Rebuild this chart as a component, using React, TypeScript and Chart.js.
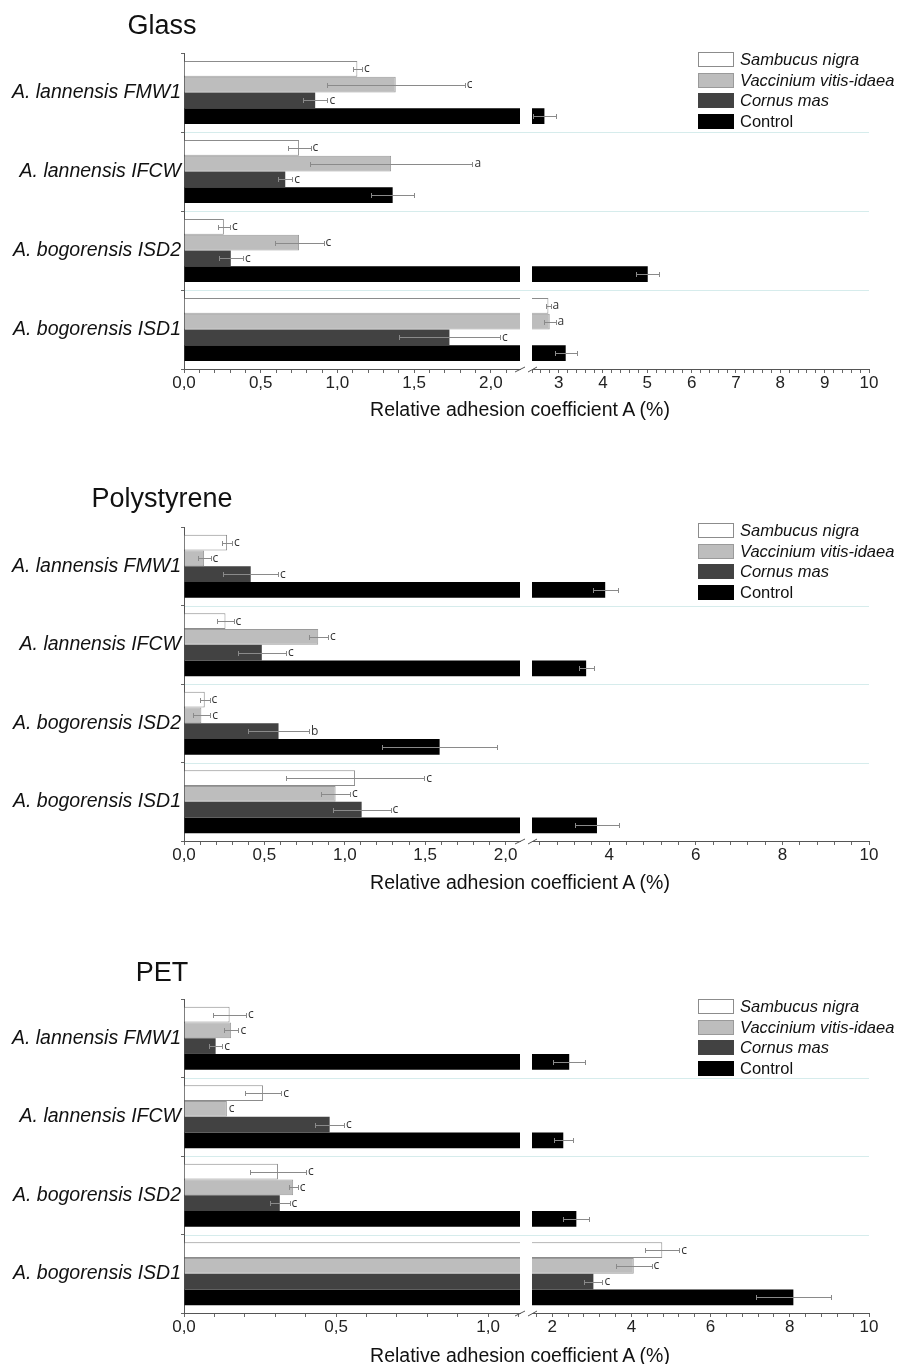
import React, { useEffect, useRef } from "react";
import { Chart, registerables } from "chart.js";

Chart.register(...registerables);

// ---------- categories & series ----------
const categories = ["A. lannensis FMW1", "A. lannensis IFCW", "A. bogorensis ISD2", "A. bogorensis ISD1"];
const seriesNames = ["Sambucus nigra", "Vaccinium vitis-idaea", "Cornus mas", "Control"];
const seriesItalic = [true, true, true, false];

// ---------- Glass ----------
const glassSambucus = [1.13, 0.75, 0.26, 2.77];
const glassSambucusErr = [0.03, 0.075, 0.04, 0.05];
const glassVaccinium = [1.38, 1.35, 0.75, 2.8];
const glassVacciniumErr = [0.45, 0.53, 0.16, 0.13];
const glassCornus = [0.855, 0.66, 0.305, 1.73];
const glassCornusErr = [0.08, 0.045, 0.08, 0.33];
const glassControl = [2.68, 1.36, 5.01, 3.16];
const glassControlErr = [0.26, 0.14, 0.26, 0.25];
const glassSambucusLetters = ["c", "c", "c", "a"];
const glassVacciniumLetters = ["c", "a", "c", "a"];
const glassCornusLetters = ["c", "c", "c", "c"];
const glassControlLetters = ["", "", "", ""];

// ---------- Polystyrene ----------
const psSambucus = [0.268, 0.258, 0.129, 1.064];
const psSambucusErr = [0.03, 0.05, 0.03, 0.43];
const psVaccinium = [0.125, 0.835, 0.108, 0.943];
const psVacciniumErr = [0.04, 0.06, 0.055, 0.09];
const psCornus = [0.415, 0.484, 0.588, 1.105];
const psCornusErr = [0.17, 0.15, 0.19, 0.18];
const psControl = [3.91, 3.47, 1.59, 3.72];
const psControlErr = [0.29, 0.17, 0.36, 0.5];
const psSambucusLetters = ["c", "c", "c", "c"];
const psVacciniumLetters = ["c", "c", "c", "c"];
const psCornusLetters = ["c", "c", "b", "c"];
const psControlLetters = ["", "", "", ""];

// ---------- PET ----------
const petSambucus = [0.15, 0.26, 0.309, 4.78];
const petSambucusErr = [0.054, 0.06, 0.092, 0.43];
const petVaccinium = [0.155, 0.141, 0.359, 4.06];
const petVacciniumErr = [0.024, 0.0, 0.015, 0.45];
const petCornus = [0.104, 0.479, 0.315, 3.04];
const petCornusErr = [0.022, 0.047, 0.032, 0.23];
const petControl = [2.43, 2.28, 2.61, 8.09];
const petControlErr = [0.41, 0.24, 0.33, 0.94];
const petSambucusLetters = ["c", "c", "c", "c"];
const petVacciniumLetters = ["c", "c", "c", "c"];
const petCornusLetters = ["c", "c", "c", "c"];
const petControlLetters = ["", "", "", ""];

// ---------- axis breaks / ticks ----------
const glassLeftRange = [0, 2.19];
const glassRightRange = [2.4, 10];
const psLeftRange = [0, 2.09];
const psRightRange = [2.22, 10];
const petLeftRange = [0, 1.105];
const petRightRange = [1.49, 10];

const axisTitle = "Relative adhesion coefficient A (%)";

// ---------- styles ----------
const FONT = "'Liberation Sans', Arial, sans-serif";
const fills = ["#ffffff", "#bdbdbd", "#424242", "#000000"];
const borders = ["#8c8c8c", "#9a9a9a", "#424242", "#000000"];
const borderWidths = [1, 1, 0, 0];
const W = 899;
const LEFT_AXIS_X = 184;
const LEFT_END_X = 520;
const RIGHT_START_X = 532;
const RIGHT_END_X = 869;
const XAXIS_H = 30;

type PanelDef = {
  title: string;
  canvasTop: number;
  canvasHeight: number;
  plotTop: number;
  plotBottom: number;
  titleY: number;
  axisTitleY: number;
  legendTop: number;
  values: number[][];
  errors: number[][];
  letters: string[][];
  leftRange: number[];
  rightRange: number[];
  leftStep: number;
  leftMajor: number;
  rightStep: number;
  rightMajor: number;
  rightFirstLabel: number;
};

const panels: PanelDef[] = [
  {
    title: "Glass",
    canvasTop: 0,
    canvasHeight: 430,
    plotTop: 53,
    plotBottom: 369,
    titleY: 25,
    axisTitleY: 409,
    legendTop: 52,
    values: [glassSambucus, glassVaccinium, glassCornus, glassControl],
    errors: [glassSambucusErr, glassVacciniumErr, glassCornusErr, glassControlErr],
    letters: [glassSambucusLetters, glassVacciniumLetters, glassCornusLetters, glassControlLetters],
    leftRange: glassLeftRange,
    rightRange: glassRightRange,
    leftStep: 0.1,
    leftMajor: 0.5,
    rightStep: 0.2,
    rightMajor: 1,
    rightFirstLabel: 3,
  },
  {
    title: "Polystyrene",
    canvasTop: 470,
    canvasHeight: 430,
    plotTop: 527,
    plotBottom: 841,
    titleY: 498,
    axisTitleY: 882,
    legendTop: 523,
    values: [psSambucus, psVaccinium, psCornus, psControl],
    errors: [psSambucusErr, psVacciniumErr, psCornusErr, psControlErr],
    letters: [psSambucusLetters, psVacciniumLetters, psCornusLetters, psControlLetters],
    leftRange: psLeftRange,
    rightRange: psRightRange,
    leftStep: 0.1,
    leftMajor: 0.5,
    rightStep: 0.4,
    rightMajor: 2,
    rightFirstLabel: 4,
  },
  {
    title: "PET",
    canvasTop: 945,
    canvasHeight: 419,
    plotTop: 999,
    plotBottom: 1313,
    titleY: 972,
    axisTitleY: 1355,
    legendTop: 999,
    values: [petSambucus, petVaccinium, petCornus, petControl],
    errors: [petSambucusErr, petVacciniumErr, petCornusErr, petControlErr],
    letters: [petSambucusLetters, petVacciniumLetters, petCornusLetters, petControlLetters],
    leftRange: petLeftRange,
    rightRange: petRightRange,
    leftStep: 0.1,
    leftMajor: 0.5,
    rightStep: 0.4,
    rightMajor: 2,
    rightFirstLabel: 2,
  },
];

function isMultiple(v: number, m: number) {
  const r = v / m;
  return Math.abs(r - Math.round(r)) < 1e-6;
}

function makeErrorPlugin(p: PanelDef, side: "left" | "right") {
  return {
    id: "errbars_" + side,
    afterDatasetsDraw(chart: any) {
      const ctx = chart.ctx;
      const area = chart.chartArea;
      const xs = chart.scales.x;
      const lo = side === "left" ? p.leftRange[0] : p.rightRange[0];
      const hi = side === "left" ? p.leftRange[1] : p.rightRange[1];
      // error bars (clipped to the segment)
      ctx.save();
      ctx.beginPath();
      ctx.rect(area.left, area.top - 2, area.right - area.left + 1, area.bottom - area.top + 4);
      ctx.clip();
      ctx.strokeStyle = "#8a8a8a";
      ctx.lineWidth = 1;
      p.values.forEach((series, i) => {
        const meta = chart.getDatasetMeta(i);
        series.forEach((v, j) => {
          const e = p.errors[i][j];
          if (!e) return;
          const bar = meta.data[j];
          const y = Math.round(bar.y) + 0.5;
          const x1 = Math.round(xs.getPixelForValue(v - e)) + 0.5;
          const x2 = Math.round(xs.getPixelForValue(v + e)) + 0.5;
          ctx.beginPath();
          ctx.moveTo(x1, y);
          ctx.lineTo(x2, y);
          ctx.moveTo(x1, y - 2.5);
          ctx.lineTo(x1, y + 2.5);
          ctx.moveTo(x2, y - 2.5);
          ctx.lineTo(x2, y + 2.5);
          ctx.stroke();
        });
      });
      ctx.restore();
      // letters
      ctx.save();
      ctx.fillStyle = "#333";
      ctx.font = "12px 'Open Sans', sans-serif";
      ctx.textBaseline = "middle";
      ctx.textAlign = "left";
      p.values.forEach((series, i) => {
        const meta = chart.getDatasetMeta(i);
        series.forEach((v, j) => {
          const letter = p.letters[i][j];
          if (!letter) return;
          if (v < lo || v > hi) return;
          const bar = meta.data[j];
          const x = xs.getPixelForValue(v + p.errors[i][j]) + 2;
          ctx.fillText(letter, x, bar.y);
        });
      });
      ctx.restore();
    },
  };
}

function makeBreakPlugin(side: "left" | "right") {
  return {
    id: "break_" + side,
    afterDraw(chart: any) {
      const ctx = chart.ctx;
      const a = chart.chartArea;
      ctx.save();
      ctx.strokeStyle = "#555";
      ctx.lineWidth = 1;
      ctx.beginPath();
      if (side === "left") {
        ctx.moveTo(a.right - 5, a.bottom + 3);
        ctx.lineTo(a.right + 5, a.bottom - 2);
      } else {
        ctx.moveTo(a.left - 4, a.bottom + 3);
        ctx.lineTo(a.left + 5, a.bottom - 2);
      }
      ctx.stroke();
      ctx.restore();
    },
  };
}

const separatorPlugin = {
  id: "separators",
  beforeDatasetsDraw(chart: any) {
    const ctx = chart.ctx;
    const ys = chart.scales.y;
    const n = categories.length;
    ctx.save();
    ctx.strokeStyle = "#d6ecec";
    ctx.lineWidth = 1;
    for (let i = 1; i < n; i++) {
      const y = Math.round((ys.getPixelForTick(i - 1) + ys.getPixelForTick(i)) / 2) + 0.5;
      ctx.beginPath();
      ctx.moveTo(chart.chartArea.left + 1, y);
      ctx.lineTo(RIGHT_END_X, y);
      ctx.stroke();
    }
    ctx.restore();
  },
};

function buildDatasets(p: PanelDef) {
  return seriesNames.map((name, i) => ({
    label: name,
    data: p.values[i],
    backgroundColor: fills[i],
    borderColor: borders[i],
    borderWidth: borderWidths[i],
    categoryPercentage: 0.8,
    barPercentage: 1,
    clip: 0,
  }));
}

function PanelView({ p }: { p: PanelDef }) {
  const leftRef = useRef<HTMLCanvasElement>(null);
  const rightRef = useRef<HTMLCanvasElement>(null);

  useEffect(() => {
    const padTop = p.plotTop - p.canvasTop;
    const padBottom = p.canvasTop + p.canvasHeight - p.plotBottom - XAXIS_H;
    const tickFont = { family: FONT, size: 17 };

    const left = new Chart(leftRef.current as HTMLCanvasElement, {
      type: "bar",
      data: { labels: categories, datasets: buildDatasets(p) as any },
      options: {
        indexAxis: "y",
        responsive: false,
        animation: false,
        layout: { padding: { left: 0, right: W - LEFT_END_X, top: padTop, bottom: padBottom } },
        plugins: { legend: { display: false }, tooltip: { enabled: false } },
        scales: {
          x: {
            type: "linear",
            min: p.leftRange[0],
            max: p.leftRange[1],
            afterFit: (s: any) => {
              s.height = XAXIS_H;
            },
            ticks: {
              stepSize: p.leftStep,
              autoSkip: false,
              includeBounds: false,
              maxRotation: 0,
              padding: 0,
              font: tickFont,
              color: "#222",
              callback: (v: any) => (isMultiple(Number(v), p.leftMajor) ? Number(v).toFixed(1).replace(".", ",") : ""),
            },
            grid: { drawOnChartArea: false, tickLength: 4, tickColor: "#666" },
            border: { color: "#555" },
          },
          y: {
            type: "category",
            afterFit: (s: any) => {
              s.width = LEFT_AXIS_X;
            },
            grid: { offset: true, drawOnChartArea: false, tickLength: 3, tickColor: "#666" },
            border: { color: "#555" },
            ticks: { font: { family: FONT, size: 19.5, style: "italic" }, color: "#111", padding: 0 },
          },
        },
      } as any,
      plugins: [separatorPlugin, makeErrorPlugin(p, "left"), makeBreakPlugin("left")],
    });

    const right = new Chart(rightRef.current as HTMLCanvasElement, {
      type: "bar",
      data: { labels: categories, datasets: buildDatasets(p) as any },
      options: {
        indexAxis: "y",
        responsive: false,
        animation: false,
        layout: { padding: { left: RIGHT_START_X, right: W - RIGHT_END_X, top: padTop, bottom: padBottom } },
        plugins: { legend: { display: false }, tooltip: { enabled: false } },
        scales: {
          x: {
            type: "linear",
            min: p.rightRange[0],
            max: p.rightRange[1],
            afterFit: (s: any) => {
              s.height = XAXIS_H;
            },
            ticks: {
              stepSize: p.rightStep,
              autoSkip: false,
              includeBounds: false,
              maxRotation: 0,
              padding: 0,
              font: tickFont,
              color: "#222",
              callback: (v: any) => {
                const n = Number(v);
                return isMultiple(n, p.rightMajor) && n >= p.rightFirstLabel - 1e-6 ? String(Math.round(n)) : "";
              },
            },
            grid: { drawOnChartArea: false, tickLength: 4, tickColor: "#666" },
            border: { color: "#555" },
          },
          y: { type: "category", display: false },
        },
      } as any,
      plugins: [makeErrorPlugin(p, "right"), makeBreakPlugin("right")],
    });

    return () => {
      left.destroy();
      right.destroy();
    };
  }, [p]);

  const canvasStyle: React.CSSProperties = {
    position: "absolute",
    left: 0,
    top: p.canvasTop,
    width: W,
    height: p.canvasHeight,
  };

  return (
    <>
      <canvas ref={leftRef} width={W} height={p.canvasHeight} style={canvasStyle} />
      <canvas ref={rightRef} width={W} height={p.canvasHeight} style={canvasStyle} />
      <div
        style={{
          position: "absolute",
          left: 0,
          width: 324,
          top: p.titleY - 16,
          height: 32,
          lineHeight: "32px",
          textAlign: "center",
          fontFamily: FONT,
          fontSize: 27,
          color: "#111",
        }}
      >
        {p.title}
      </div>
      <div
        style={{
          position: "absolute",
          left: 270,
          width: 500,
          top: p.axisTitleY - 12,
          height: 24,
          lineHeight: "24px",
          textAlign: "center",
          fontFamily: FONT,
          fontSize: 19.5,
          color: "#111",
        }}
      >
        {axisTitle}
      </div>
      {seriesNames.map((name, i) => (
        <div
          key={name}
          style={{
            position: "absolute",
            left: 698,
            top: p.legendTop + i * 20.7,
            height: 15,
            display: "flex",
            alignItems: "center",
            whiteSpace: "nowrap",
          }}
        >
          <div
            style={{
              width: 36,
              height: 15,
              boxSizing: "border-box",
              background: fills[i],
              border: `1px solid ${i === 0 ? "#8c8c8c" : i === 1 ? "#9a9a9a" : fills[i]}`,
            }}
          />
          <span
            style={{
              marginLeft: 6,
              fontFamily: FONT,
              fontSize: 16.5,
              fontStyle: seriesItalic[i] ? "italic" : "normal",
              color: "#111",
              lineHeight: "15px",
            }}
          >
            {name}
          </span>
        </div>
      ))}
    </>
  );
}

export default function App() {
  return (
    <div
      style={{
        position: "absolute",
        left: 0,
        top: 0,
        width: W,
        height: 1364,
        background: "#ffffff",
        overflow: "hidden",
      }}
    >
      {panels.map((p) => (
        <PanelView key={p.title} p={p} />
      ))}
    </div>
  );
}
